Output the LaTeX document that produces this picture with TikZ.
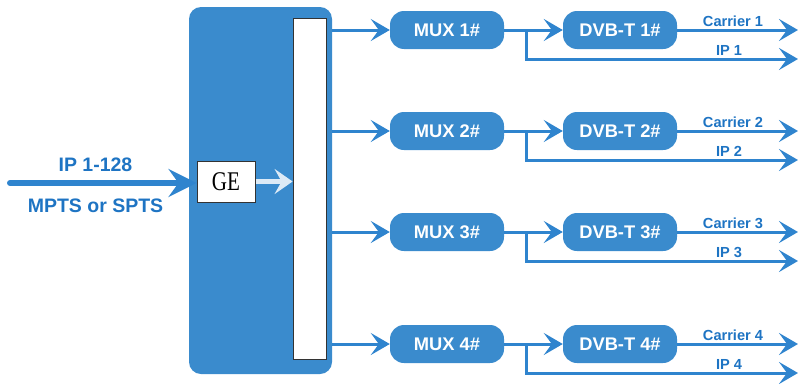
\documentclass[tikz,border=0pt]{standalone}
\usepackage{fontspec}
\setmainfont{Liberation Sans}
\newfontfamily\gefont{Liberation Serif}
\usetikzlibrary{arrows.meta}
\definecolor{boxblue}{HTML}{3A8BCD}
\definecolor{lineblue}{HTML}{2F84CE}
\definecolor{txtblue}{HTML}{1E74C3}
\begin{document}
\begin{tikzpicture}[x=1pt,y=-1pt,
 conn/.style={draw=lineblue, line width=3pt, -{Stealth[length=19pt,width=22pt,inset=8pt]}},
 proc/.style={fill=boxblue, draw=none, rounded corners=14pt, minimum width=114pt, minimum height=38pt, inner sep=0pt, text=white, font=\bfseries\fontsize{18.3}{20}\selectfont},
 lab/.style={text=txtblue, font=\bfseries\fontsize{14.6}{16}\selectfont, inner sep=0pt},
 biglab/.style={text=txtblue, font=\bfseries\fontsize{19.5}{21}\selectfont, inner sep=0pt}]
\useasboundingbox (0,0) rectangle (798,383);
\node[fill=boxblue, rounded corners=12pt, minimum width=143pt, minimum height=367pt, inner sep=0pt] (dev) at (260.5,190.5) {};
\node[fill=white, draw=black!80, line width=0.8pt, minimum width=33pt, minimum height=341pt, inner sep=0pt] (bar) at (309.5,188.5) {};
\node[fill=white, draw=black!80, line width=1pt, minimum width=58pt, minimum height=41pt, inner sep=0pt, font=\gefont\fontsize{27}{27}\selectfont] (ge) at (226,181.5) {\scalebox{0.78}[1]{GE}};
\coordinate (in) at (10,183);
\draw[lineblue, line width=6pt, line cap=round, -{Stealth[length=28pt,width=28pt,inset=10pt]}] (in) -- (ge.west |- in);
\node[biglab] (inlab1) at (95.5,165) {IP 1-128};
\node[biglab] (inlab2) at (95.5,206) {MPTS or SPTS};
\draw[draw=white!82!boxblue, line width=5pt, -{Stealth[length=18pt,width=25pt,inset=7pt]}] (ge.east) -- (bar.west |- ge.east);
\foreach \i/\y in {1/30,2/131,3/232,4/344}{
  \node[proc] (mux\i) at (447,\y) {MUX \i\#};
  \node[proc] (dvb\i) at (620,\y) {DVB-T \i\#};
  \draw[conn] (dev.east |- mux\i) -- (mux\i.west);
  \draw[conn] (mux\i.east) -- (dvb\i.west);
  \coordinate (br\i) at (526,\y);
  \coordinate (car\i) at (798,\y);
  \coordinate (ip\i) at (798,\y+29);
  \draw[conn] (dvb\i.east) -- (car\i);
  \draw[conn] (br\i) |- (ip\i);
  \node[lab] (cl\i) at (733,\y-9) {Carrier \i};
  \node[lab] (il\i) at (729,\y+20) {IP \i};
}
\end{tikzpicture}
\end{document}
